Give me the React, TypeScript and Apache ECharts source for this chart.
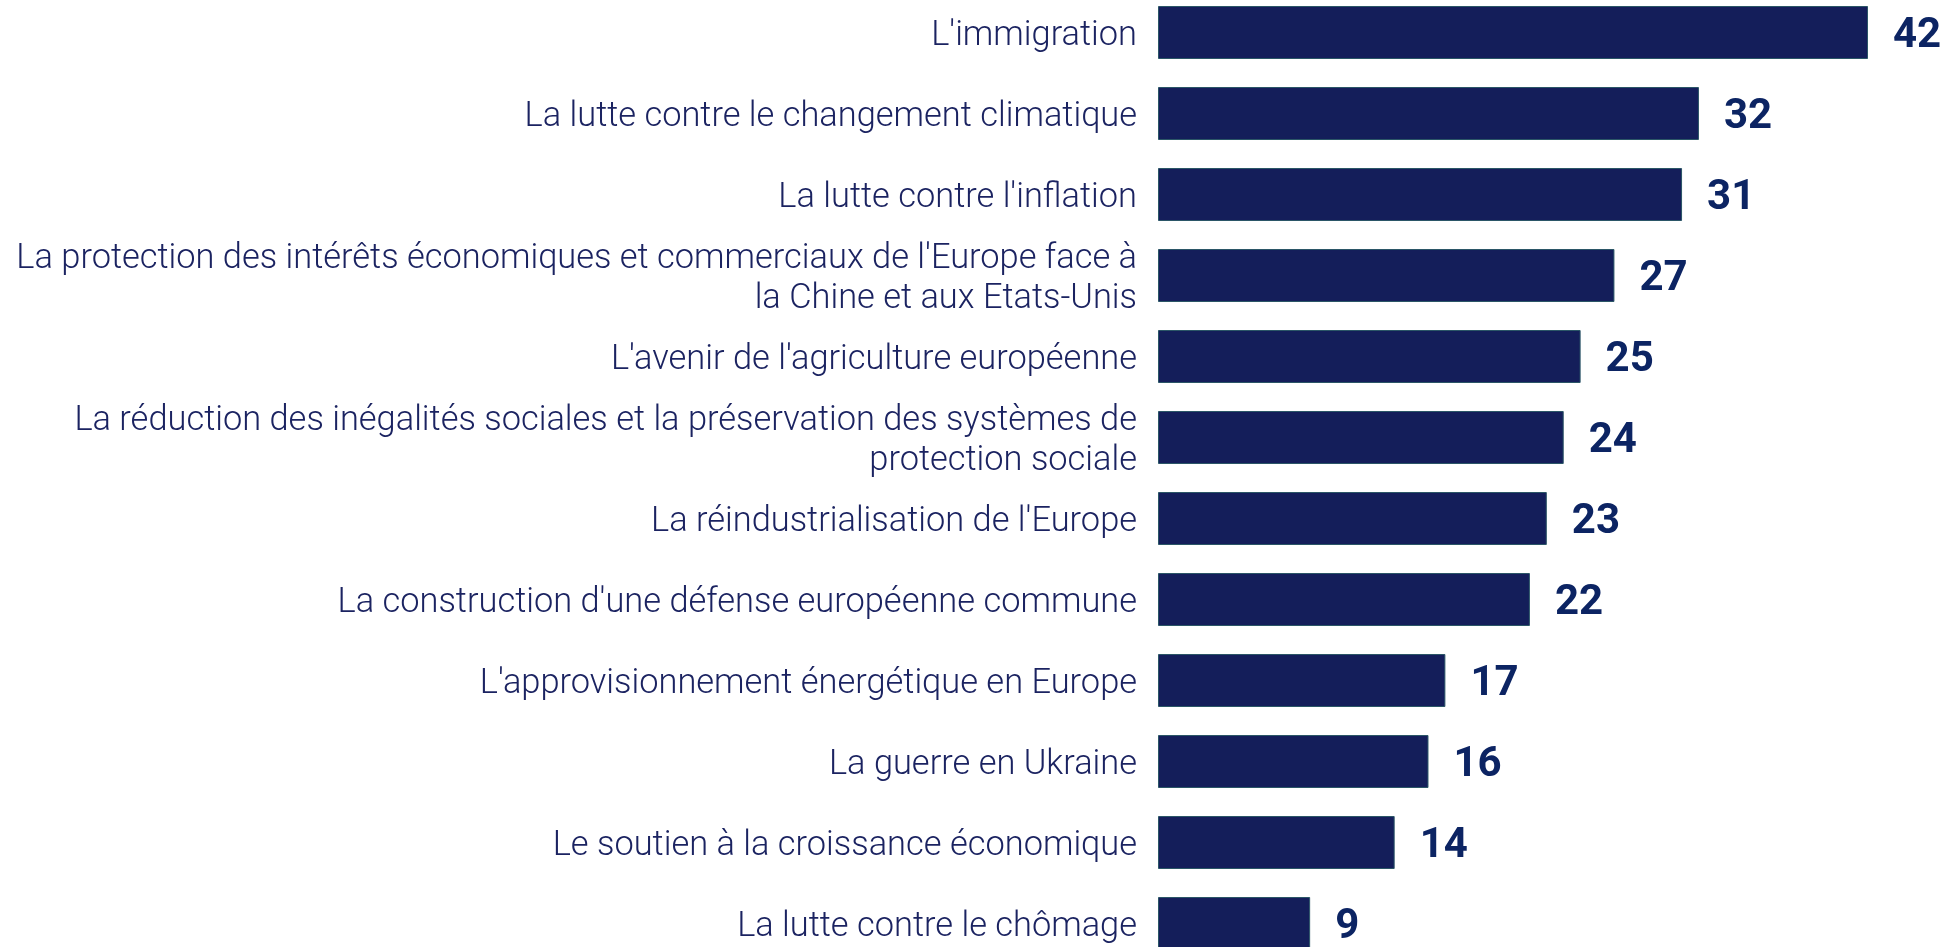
import React, { useEffect, useRef } from "react";
import * as echarts from "echarts";

const categories: string[] = [
  "L'immigration",
  "La lutte contre le changement climatique",
  "La lutte contre l'inflation",
  "La protection des intérêts économiques et commerciaux de l'Europe face à\nla Chine et aux Etats-Unis",
  "L'avenir de l'agriculture européenne",
  "La réduction des inégalités sociales et la préservation des systèmes de\nprotection sociale",
  "La réindustrialisation de l'Europe",
  "La construction d'une défense européenne commune",
  "L'approvisionnement énergétique en Europe",
  "La guerre en Ukraine",
  "Le soutien à la croissance économique",
  "La lutte contre le chômage",
];

const values: number[] = [42, 32, 31, 27, 25, 24, 23, 22, 17, 16, 14, 9];

export default function App() {
  const ref = useRef<HTMLDivElement>(null);
  useEffect(() => {
    if (!ref.current) return;
    const chart = echarts.init(ref.current, undefined, { renderer: "svg" });
    chart.setOption({
      animation: false,
      grid: { left: 1158, right: 81, top: 0, bottom: 0, containLabel: false },
      xAxis: {
        type: "value",
        min: 0,
        max: 42,
        show: false,
      },
      yAxis: {
        type: "category",
        inverse: true,
        data: categories,
        axisLine: { show: false },
        axisTick: { show: false },
        splitLine: { show: false },
        axisLabel: {
          margin: 21,
          color: "#1b2361",
          fontFamily: "Roboto",
          fontWeight: 300,
          fontSize: 34.4,
          lineHeight: 40,
          align: "right",
        },
      },
      series: [
        {
          type: "bar",
          data: values,
          barWidth: 53,
          itemStyle: { color: "#141e5a", borderColor: "#2b5667", borderWidth: 1 },
          label: {
            show: true,
            position: "right",
            distance: 25,
            color: "#0c2463",
            fontFamily: "Roboto",
            fontWeight: "bold",
            fontSize: 42,
          },
        },
      ],
    });
    return () => chart.dispose();
  }, []);
  return (
    <div style={{ position: "fixed", left: 0, top: 0, width: 1949, height: 947, overflow: "hidden" }}>
      <div
        ref={ref}
        style={{ position: "absolute", left: 0, top: -8, width: 1949, height: 972 }}
      />
    </div>
  );
}
